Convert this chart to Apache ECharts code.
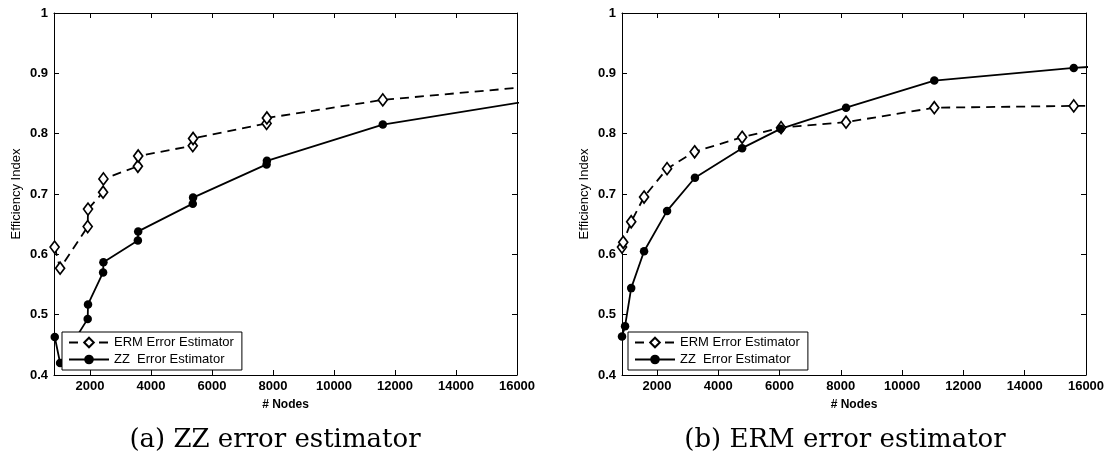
<!DOCTYPE html>
<html>
<head>
<meta charset="utf-8">
<script src="https://cdn.jsdelivr.net/npm/echarts@6/dist/echarts.min.js"></script>
<style>
  html, body { margin: 0; padding: 0; background: #fff; }
  #chart { width: 1112px; height: 460px; }
</style>
</head>
<body>
<div id="chart"></div>
<script>
// (a) ZZ error estimator: efficiency index against number of nodes
const nodesA_ERM = [840, 1020, 1925, 1935, 2430, 2440, 3570, 3580, 5370, 5380, 7790, 7800, 11600, 17000];
const effA_ERM   = [0.612, 0.577, 0.646, 0.675, 0.703, 0.725, 0.746, 0.763, 0.780, 0.792, 0.817, 0.826, 0.856, 0.8805];
const nodesA_ZZ  = [845, 1020, 1925, 1935, 2430, 2440, 3570, 3580, 5370, 5380, 7790, 7800, 11600, 17000];
const effA_ZZ    = [0.463, 0.420, 0.493, 0.517, 0.570, 0.587, 0.623, 0.638, 0.684, 0.694, 0.749, 0.755, 0.815, 0.859];

// (b) ERM error estimator
const nodesB_ERM = [860, 900, 1160, 1580, 2330, 3230, 4780, 6050, 8170, 11050, 15600, 17000];
const effB_ERM   = [0.612, 0.620, 0.654, 0.695, 0.742, 0.770, 0.794, 0.810, 0.819, 0.843, 0.846, 0.846];
const nodesB_ZZ  = [860, 960, 1160, 1580, 2330, 3240, 4780, 6030, 8170, 11050, 15600, 17000];
const effB_ZZ    = [0.464, 0.481, 0.544, 0.605, 0.672, 0.727, 0.776, 0.808, 0.843, 0.888, 0.909, 0.9135];

const xTicks = [2000, 4000, 6000, 8000, 10000, 12000, 14000, 16000];
const seriesNames = ['ERM Error Estimator', 'ZZ  Error Estimator'];
const captions = ['(a) ZZ error estimator', '(b) ERM error estimator'];

const zip = (xs, ys) => xs.map((x, i) => [x, ys[i]]);
const FONT = '"Liberation Sans", Arial, Helvetica, sans-serif';

const grids = [
  { left: 54, top: 13, width: 463, height: 362 },
  { left: 622, top: 13, width: 464, height: 362 }
];
const xMins = [820, 860];
const legendLefts = [62, 628];

function xAxesFor(gi) {
  const base = {
    type: 'value', gridIndex: gi, min: xMins[gi], max: 16000,
    splitLine: { show: false },
    axisLine: { show: true, onZero: false, lineStyle: { color: '#000', width: 1 } },
    axisTick: { show: true, inside: true, length: 5, customValues: xTicks, lineStyle: { color: '#000' } }
  };
  return [
    Object.assign({}, base, {
      position: 'bottom',
      name: '# Nodes', nameLocation: 'middle', nameGap: 24,
      nameTextStyle: { fontFamily: FONT, fontSize: 12, fontWeight: 'bold', color: '#000' },
      axisLabel: {
        customValues: xTicks, margin: 5, fontFamily: FONT, fontSize: 13, fontWeight: 'bold', color: '#000',
        formatter: v => String(Math.round(v))
      }
    }),
    Object.assign({}, base, { position: 'top', axisLabel: { show: false } })
  ];
}

function yAxesFor(gi) {
  const base = {
    type: 'value', gridIndex: gi, min: 0.4, max: 1, interval: 0.1,
    splitLine: { show: false },
    axisLine: { show: true, onZero: false, lineStyle: { color: '#000', width: 1 } },
    axisTick: { show: true, inside: true, length: 5, lineStyle: { color: '#000' } }
  };
  return [
    Object.assign({}, base, {
      position: 'left',
      name: 'Efficiency Index', nameLocation: 'middle', nameGap: 31, nameRotate: 90,
      nameTextStyle: { fontFamily: FONT, fontSize: 13, color: '#000' },
      axisLabel: {
        margin: 6, fontFamily: FONT, fontSize: 13, fontWeight: 'bold', color: '#000',
        formatter: v => (Math.abs(v - 1) < 1e-9 ? '1' : v.toFixed(1))
      }
    }),
    Object.assign({}, base, { position: 'right', axisLabel: { show: false } })
  ];
}

function ermSeries(gi, xs, ys) {
  return {
    name: seriesNames[0], type: 'line', xAxisIndex: gi * 2, yAxisIndex: gi * 2,
    data: zip(xs, ys), clip: true, animation: false,
    symbol: 'diamond', symbolSize: [9, 12], showAllSymbol: true,
    lineStyle: { color: '#000', width: 1.8, type: [9, 6] },
    itemStyle: { color: '#fff', borderColor: '#000', borderWidth: 1.7 },
    emphasis: { disabled: true }
  };
}
function zzSeries(gi, xs, ys) {
  return {
    name: seriesNames[1], type: 'line', xAxisIndex: gi * 2, yAxisIndex: gi * 2,
    data: zip(xs, ys), clip: true, animation: false,
    symbol: 'circle', symbolSize: 8.5, showAllSymbol: true,
    lineStyle: { color: '#000', width: 1.8, type: 'solid' },
    itemStyle: { color: '#000', borderColor: '#000', borderWidth: 0 },
    emphasis: { disabled: true }
  };
}

function legendFor(gi) {
  return {
    data: seriesNames,
    left: legendLefts[gi], top: 332,
    orient: 'vertical', itemGap: 4, itemWidth: 40, itemHeight: 12,
    padding: [4, 8, 4, 6],
    borderColor: '#000', borderWidth: 1, backgroundColor: '#fff',
    selectedMode: false,
    textStyle: { fontFamily: FONT, fontSize: 13, color: '#000' },
    z: 10
  };
}

const chart = echarts.init(document.getElementById('chart'), null, { renderer: 'canvas' });
chart.setOption({
  animation: false,
  backgroundColor: '#fff',
  grid: grids,
  xAxis: [...xAxesFor(0), ...xAxesFor(1)],
  yAxis: [...yAxesFor(0), ...yAxesFor(1)],
  legend: [0, 1].map(gi => legendFor(gi)),
  series: [
    ermSeries(0, nodesA_ERM, effA_ERM),
    zzSeries(0, nodesA_ZZ, effA_ZZ),
    ermSeries(1, nodesB_ERM, effB_ERM),
    zzSeries(1, nodesB_ZZ, effB_ZZ)
  ],
  graphic: captions.map((t, i) => ({
    type: 'text',
    x: i === 0 ? 275 : 845, y: 440,
    style: {
      text: t, textAlign: 'center', textVerticalAlign: 'middle',
      font: '26px "DejaVu Serif", "Liberation Serif", serif', fill: '#000'
    }
  }))
});
</script>
</body>
</html>
